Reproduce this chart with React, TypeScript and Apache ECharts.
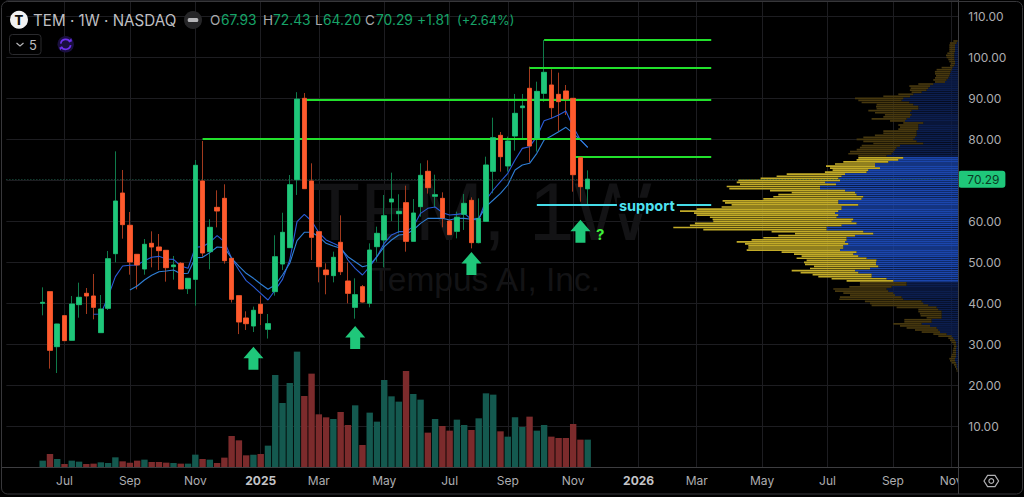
import React, { useEffect, useRef } from "react";
import * as echarts from "echarts";

// ---------- x axis ----------
const CATEGORY_COUNT = 132;
const FIRST_CANDLE_INDEX = 5;
const tickIndexes = [8, 17, 26, 35, 43, 52, 61, 69, 78, 87, 95, 104, 113, 122, 130];
const tickLabels = ["Jul", "Sep", "Nov", "2025", "Mar", "May", "Jul", "Sep", "Nov", "2026", "Mar", "May", "Jul", "Sep", "Nov"];

// ---------- candles: open, close, low, high ----------
const candles: number[][] = [
  [40.0, 40.25, 37.07, 43.9], [42.85, 28.54, 24.07, 42.85], [29.43, 34.96, 23.0, 35.0], [36.99, 30.9, 30.9, 37.0],
  [30.98, 39.84, 30.9, 41.79], [39.68, 41.47, 36.5, 45.04], [42.44, 41.79, 37.4, 43.74], [41.79, 39.03, 36.1, 47.16],
  [32.85, 38.62, 32.85, 42.03], [38.78, 50.89, 38.37, 52.77], [52.11, 64.96, 50.0, 77.07], [66.9, 59.19, 55.77, 72.52],
  [59.03, 50.08, 46.99, 62.28], [51.95, 49.35, 43.42, 51.95], [48.37, 54.39, 46.99, 55.69], [54.64, 53.74, 48.78, 57.56],
  [53.74, 52.85, 48.13, 56.91], [52.93, 48.7, 45.29, 52.93], [48.94, 49.35, 45.77, 51.55], [49.76, 43.5, 43.5, 50.08],
  [43.58, 46.1, 42.28, 46.1], [45.85, 73.66, 39.43, 74.96], [69.84, 52.28, 51.37, 79.6], [52.6, 58.54, 48.3, 60.5],
  [63.41, 62.52, 58.54, 67.56], [65.61, 50.41, 49.68, 69.03], [50.98, 40.98, 40.2, 50.98], [41.87, 35.45, 32.5, 41.87],
  [36.42, 35.04, 33.5, 38.05], [34.47, 38.3, 33.0, 39.2], [39.76, 37.56, 34.7, 41.87], [33.66, 35.04, 31.4, 37.4],
  [42.85, 51.37, 41.87, 56.6], [49.59, 57.32, 48.13, 62.1], [53.58, 68.94, 53.58, 71.3], [70.16, 89.8, 66.43, 91.5],
  [90.0, 67.97, 67.9, 91.3], [69.84, 56.1, 50.57, 74.15], [57.48, 48.94, 45.12, 57.48], [48.13, 46.99, 42.2, 49.76],
  [46.75, 51.22, 45.12, 52.6], [54.88, 47.72, 46.9, 61.46], [45.45, 42.44, 40.0, 50.0], [39.02, 42.11, 36.26, 46.1],
  [44.06, 40.32, 40.16, 44.47], [40.0, 53.0, 39.02, 54.63], [53.82, 57.07, 50.16, 58.7], [55.45, 61.38, 48.78, 66.42],
  [64.72, 65.45, 60.08, 71.87], [61.87, 62.44, 57.07, 66.59], [64.55, 55.12, 52.6, 68.7], [55.12, 62.03, 55.12, 65.45],
  [63.58, 71.22, 61.14, 74.15], [72.2, 68.21, 66.75, 74.88], [66.1, 66.5, 63.4, 71.38], [65.6, 60.8, 58.54, 67.07],
  [60.08, 56.75, 56.75, 60.3], [57.56, 60.98, 55.85, 62.35], [61.7, 64.39, 57.9, 66.67], [65.12, 54.8, 53.4, 65.85],
  [54.8, 60.73, 54.63, 65.6], [60.0, 73.74, 59.92, 75.77], [72.2, 80.4, 66.83, 85.28], [80.97, 75.77, 72.11, 81.79],
  [73.5, 79.59, 72.11, 80.65], [80.81, 86.34, 77.24, 91.06], [87.72, 88.13, 80.24, 91.06], [92.44, 78.37, 74.39, 97.72],
  [80.24, 91.7, 77.0, 94.06], [91.22, 96.34, 89.19, 104.2], [93.25, 87.72, 85.12, 97.07], [90.97, 89.19, 82.03, 96.26],
  [91.79, 89.76, 85.93, 93.25], [90.0, 71.38, 67.23, 90.0], [75.61, 68.45, 64.8, 75.61], [67.93, 70.29, 64.2, 72.43],
];

// ---------- volume, millions ----------
const volumes = [
  1.67, 3.33, 2.08, 0.83, 1.67, 1.42, 0.83, 0.92, 1.25, 1.08, 2.5, 1.5, 1.17, 1.67, 1.92, 1.33, 1.33, 1.17, 1.08, 0.92,
  0.92, 3.17, 2.08, 1.92, 1.08, 2.42, 7.83, 6.75, 3.0, 3.17, 3.33, 5.42, 23.08, 16.08, 21.08, 28.92, 17.83, 23.42, 13.25, 12.5,
  12.08, 13.83, 10.58, 15.5, 5.58, 13.67, 11.42, 21.83, 17.75, 16.42, 24.08, 18.33, 16.92, 8.67, 12.08, 10.33, 9.17, 11.92, 10.58, 9.33,
  12.25, 18.5, 18.17, 9.0, 7.67, 12.5, 10.08, 12.67, 9.17, 10.58, 7.67, 7.33, 7.33, 10.83, 6.92, 6.92,
];

// ---------- moving averages, by candle position ----------
const fastAvgStart = 7;
const fastAvg = [
  37.32, 37.4, 41.63, 46.5, 49.1, 49.27, 49.35, 50.41, 51.22, 51.46, 50.81, 50.73, 49.1, 48.54, 53.66, 53.82, 54.88, 56.5, 55.04,
  50.98, 48.13, 45.53, 44.06, 42.44, 40.81, 43.25, 45.85, 50.57, 59.92, 61.7, 60.08, 57.24, 55.45, 54.63, 53.82, 50.57, 48.54, 46.91,
  48.94, 51.38, 54.63, 56.67, 57.48, 57.48, 58.7, 61.95, 63.17, 63.5, 62.11, 61.54, 61.7, 61.95, 60.49, 60.32, 65.2, 67.64, 69.67,
  71.7, 74.96, 77.8, 78.21, 80.65, 84.55, 85.12, 85.93, 86.91, 83.09, 79.84, 78.05,
];
const slowAvgStart = 12;
const slowAvg = [
  43.25, 44.23, 45.69, 46.83, 47.72, 47.89, 48.13, 47.24, 47.32, 51.14, 51.22, 52.36, 53.74, 53.58, 50.98, 49.1, 47.32, 46.1, 44.72,
  43.42, 44.47, 46.91, 49.76, 55.28, 57.32, 57.32, 56.26, 54.63, 53.98, 53.41, 51.38, 50.16, 48.94, 49.35, 51.38, 53.82, 55.45, 56.67,
  56.83, 57.89, 59.51, 60.73, 60.73, 60.73, 60.32, 60.73, 60.73, 60.49, 60.73, 63.58, 65.2, 66.83, 68.86, 72.52, 73.74, 74.15, 76.59,
  79.84, 80.81, 81.87, 82.93, 81.46, 79.84, 78.05,
];

// ---------- horizontal levels ----------
const levelStarts = [74, 72, 41, 27, 78];
const levelPrices = [104.2, 97.5, 89.6, 80.15, 75.8];
const levelEnd = 97;
const supportPrice = 64.05;
const supportStart = 73;
const supportLabelAt = 88;
const lastPrice = 70.29;

// ---------- arrows ----------
const arrowIndexes = [34, 48, 64, 79];
const arrowPrices = [26.6, 31.65, 49.7, 57.6];

// ---------- volume profile, rows from 104 down to 23.5 in 0.5 steps ----------
const profileTopPrice = 104;
const valueAreaHigh = 75.5;
const valueAreaLow = 45.5;
const profileBlue = [
  0.7, 1.7, 3.3, 3.3, 3.3, 3.3, 4, 4, 4, 4, 3.3, 3.3, 4, 5.7, 6.7, 7.7, 8.3, 9, 10, 11.7, 13.3, 25, 28.3, 30, 31.7, 36.7, 45, 48.3, 55, 56.7,
  49, 45, 40, 40, 46.7, 48.3, 46.7, 48.3, 51.7, 53.3, 35, 40, 40, 40, 41.7, 41.7, 41.7, 43.3, 45, 41.7, 35, 58.3, 61.7, 63.3, 65, 66.7, 71.7,
  55, 60, 70, 83.3, 83.3, 78.3, 90, 91.7, 113.3, 116.7, 120, 118.3, 133.3, 122.3, 138.3, 138.3, 113.3, 103.3, 101.7, 95, 96.7,
  120, 120, 100, 116.7, 116.7, 120, 123.3, 120, 121.7, 105, 106.7, 101.7, 116.7, 131.7, 131.7, 95, 85, 103.3, 111.7, 111.7, 113.3, 110,
  115, 115, 118.3, 101.7, 105, 100, 91.7, 81.7, 82.3, 82.3, 80, 88.3, 103.3, 100, 86.7, 86.7, 71.7, 65,
  51.7, 51.7, 66.7, 71.7, 70, 65, 63.3, 56.7, 55, 36.7, 35, 30, 21.7, 20, 16.7, 16.7, 16.7, 16.7, 26.7, 26.7, 36.7, 28.3, 21.7, 20, 18.3,
  11.7, 6.7, 5, 3.3, 2.3, 2.3, 1.7, 2.3, 2.3, 2.3, 2.3, 2.3, 3.3, 3.3, 2.3, 1.7, 1.7, 1, 0.7,
];
const profileYellow = [
  4.3, 6.7, 5.7, 5.7, 5.7, 5.7, 7, 8.3, 7.7, 6, 5.7, 4.3, 4.3, 11, 15, 15.7, 15, 13.3, 13.3, 13.3, 10, 15, 20.7, 17.7, 16.7, 10, 15, 26.7, 48.3, 43.3,
  47.7, 36.7, 42.3, 41.7, 43.3, 35, 26.7, 26.7, 35, 15, 20, 20, 18.3, 20, 33.3, 33.3, 41.7, 51.7, 56.7, 53.3, 50, 38.3, 36.7, 38.3, 43.3, 43.3, 28.3,
  45, 41.7, 45, 40, 49, 50, 35.7, 41.7, 58.3, 65, 77.7, 101.7, 88.3, 96, 93.3, 90.7, 75, 63.3, 78.3, 90, 98.3,
  115.7, 113.3, 126.7, 120, 145, 158.3, 141, 141.7, 126.7, 140.7, 138.3, 161.7, 151.7, 153.3, 123.3, 91.7, 78.3, 76.7, 83.3, 95, 108.3, 103.3,
  95, 95, 93.3, 75, 59.3, 56.7, 70, 70, 72, 71, 64.3, 60, 63.3, 57.7, 59, 53.3, 55, 46.7,
  46.7, 46.7, 42.3, 53.3, 53.3, 50, 45, 61.7, 64, 56.7, 53.3, 56.7, 40, 20, 23.3, 21.7, 21, 15, 27.3, 27.3, 28.3, 30, 30, 23.3, 18.3,
  13.3, 13.3, 5, 5, 4.3, 2.7, 2.7, 2.7, 3.3, 3.3, 4.3, 5, 5.7, 5, 4.3, 2.7, 1.7, 1.3, 1,
];

// ---------- header ----------
const headerTitle = "TEM · 1W · NASDAQ";
const ohlcLabels = ["O", "H", "L", "C"];
const ohlcValues = ["67.93", "72.43", "64.20", "70.29"];
const changeText = "+1.81";
const changePctText = "(+2.64%)";

const GREEN = "#1fc77a";
const RED = "#ff5a2d";
const FONT = "Inter";
const GRID_LINE = "#1d1d21";
const AXIS_LINE = "#3d3d40";
const AXIS_TEXT = "#adadb0";

const PLOT_LEFT = 6.37;
const PLOT_RIGHT = 958.3;
const PLOT_BOTTOM = 467.33;
const PRICE_MAX = 113.983;
const VOLUME_MAX = 116.83;

function App() {
  const ref = useRef<HTMLDivElement>(null);
  useEffect(() => {
    if (!ref.current) return;
    const chart = echarts.init(ref.current, undefined, { renderer: "svg" });

    const categories = Array.from({ length: CATEGORY_COUNT }, (_, i) => String(i));
    const isTick = (i: number) => tickIndexes.indexOf(i) >= 0;

    const wicks = candles.map((c, i) => [i + FIRST_CANDLE_INDEX, c[0], c[1], c[2], c[3]]);
    const bodies = candles.map((c, i) => [i + FIRST_CANDLE_INDEX, c[0], c[1], Math.min(c[0], c[1]), Math.max(c[0], c[1])]);
    const volumeData = volumes.map((v, i) => {
      const up = candles[i][1] >= candles[i][0];
      return { value: [i + FIRST_CANDLE_INDEX, v], itemStyle: { color: up ? "#14594f" : "#7c2b2c" } };
    });
    const lineData = (vals: number[], start: number) => vals.map((v, i) => [i + start + FIRST_CANDLE_INDEX, v]);

    // profile rows on a 0.5-step price category axis
    const profileCategories = Array.from({ length: 229 }, (_, i) => (i * 0.5).toFixed(1));
    const rowOf = (k: number) => Math.round((profileTopPrice - k * 0.5) * 2);
    const inValue = (k: number) => {
      const p = profileTopPrice - k * 0.5;
      return p <= valueAreaHigh && p >= valueAreaLow;
    };
    const profileData = (vals: number[], bright: string, dim: string) => {
      const out: any[] = profileCategories.map(() => "-");
      vals.forEach((v, k) => {
        out[rowOf(k)] = { value: v, itemStyle: { color: inValue(k) ? bright : dim } };
      });
      return out;
    };

    const levelLines = levelPrices.map((p, i) => [
      { coord: [levelStarts[i], p] },
      { coord: [levelEnd, p] },
    ]);

    const headerSmall = { fontFamily: FONT, fontSize: 13.5, fill: "#a9a9ac" };
    const headerGreen = { fontFamily: FONT, fontSize: 13.8, fill: "#17a368" };
    const ohlcLabelX = [210, 263, 315, 365];
    const ohlcValueX = [221, 273, 323, 376];

    const option: any = {
      animation: false,
      backgroundColor: "#000",
      grid: [
        { left: PLOT_LEFT, top: 0, width: PLOT_RIGHT - PLOT_LEFT, height: PLOT_BOTTOM },
        { left: 0, top: 0, width: PLOT_RIGHT, height: PLOT_BOTTOM },
      ],
      xAxis: [
        {
          type: "category",
          gridIndex: 0,
          data: categories,
          boundaryGap: false,
          axisLine: { show: false },
          axisTick: { show: false },
          axisLabel: {
            interval: (i: number) => isTick(i),
            margin: 7,
            fontFamily: FONT,
            fontSize: 12,
            color: AXIS_TEXT,
            formatter: (v: string) => {
              const t = tickLabels[tickIndexes.indexOf(Number(v))] ?? "";
              return /^\d/.test(t) ? `{b|${t}}` : t;
            },
            rich: { b: { fontFamily: FONT, fontSize: 12, fontWeight: 700, color: "#c4c4c7" } },
          },
          splitLine: { show: true, interval: (i: number) => isTick(i), lineStyle: { color: GRID_LINE, width: 1 } },
        },
        {
          type: "value",
          gridIndex: 1,
          inverse: true,
          min: 0,
          max: PLOT_RIGHT,
          show: false,
        },
      ],
      yAxis: [
        {
          type: "value",
          gridIndex: 0,
          position: "right",
          min: 0,
          max: PRICE_MAX,
          interval: 10,
          axisLine: { show: false },
          axisTick: { show: false },
          axisLabel: {
            align: "left",
            margin: 10,
            fontFamily: FONT,
            fontSize: 12,
            color: AXIS_TEXT,
            formatter: (v: number) => (v >= 10 && v <= 110 ? v.toFixed(2) : ""),
          },
          splitLine: { lineStyle: { color: GRID_LINE, width: 1 } },
        },
        {
          type: "value",
          gridIndex: 0,
          position: "left",
          min: 0,
          max: VOLUME_MAX,
          show: false,
        },
        {
          type: "category",
          gridIndex: 1,
          data: profileCategories,
          boundaryGap: false,
          show: false,
        },
      ],
      series: [
        {
          type: "bar",
          name: "profile sell",
          xAxisIndex: 1,
          yAxisIndex: 2,
          stack: "profile",
          barWidth: 1.7,
          z: 1,
          silent: true,
          data: profileData(profileBlue, "#1b46ad", "#0c1e4e"),
        },
        {
          type: "bar",
          name: "profile buy",
          xAxisIndex: 1,
          yAxisIndex: 2,
          stack: "profile",
          barWidth: 1.7,
          z: 1,
          silent: true,
          data: profileData(profileYellow, "#c2ab28", "#47380f"),
        },
        {
          type: "bar",
          name: "volume",
          xAxisIndex: 0,
          yAxisIndex: 1,
          barWidth: 6.4,
          z: 2,
          data: volumeData,
        },
        {
          type: "candlestick",
          name: "wicks",
          xAxisIndex: 0,
          yAxisIndex: 0,
          barWidth: 5,
          z: 3,
          encode: { x: 0, y: [1, 2, 3, 4] },
          itemStyle: { color: "#0f7a4a", color0: "#a33a1e", borderColor: "#0f7a4a", borderColor0: "#a33a1e", borderWidth: 1 },
          data: wicks,
        },
        {
          type: "line",
          name: "fast average",
          xAxisIndex: 0,
          yAxisIndex: 0,
          z: 4,
          showSymbol: false,
          lineStyle: { color: "#2a5bd6", width: 1.1 },
          data: lineData(fastAvg, fastAvgStart),
        },
        {
          type: "line",
          name: "slow average",
          xAxisIndex: 0,
          yAxisIndex: 0,
          z: 4,
          showSymbol: false,
          lineStyle: { color: "#2f7fd6", width: 1.1 },
          data: lineData(slowAvg, slowAvgStart),
        },
        {
          type: "candlestick",
          name: "bodies",
          xAxisIndex: 0,
          yAxisIndex: 0,
          barWidth: 5,
          z: 5,
          encode: { x: 0, y: [1, 2, 3, 4] },
          itemStyle: { color: GREEN, color0: RED, borderColor: GREEN, borderColor0: RED, borderWidth: 0.5 },
          data: bodies,
          markLine: {
            silent: true,
            symbol: "none",
            animation: false,
            lineStyle: { color: "#1f5a49", type: [1, 2], width: 1 },
            label: {
              show: true,
              position: "end",
              distance: 0,
              formatter: lastPrice.toFixed(2),
              backgroundColor: GREEN,
              color: "#0a3a24",
              fontFamily: FONT,
              fontSize: 12,
              borderRadius: 3,
              padding: [2.5, 6, 2.5, 9],
            },
            data: [{ yAxis: lastPrice }],
          },
        },
        {
          type: "line",
          name: "levels",
          xAxisIndex: 0,
          yAxisIndex: 0,
          z: 6,
          showSymbol: false,
          data: [],
          markLine: {
            silent: true,
            symbol: "none",
            animation: false,
            lineStyle: { color: "#22e02c", type: "solid", width: 1.8, opacity: 1 },
            label: { show: false },
            data: [
              ...levelLines,
              [
                { coord: [supportStart, supportPrice], lineStyle: { color: "#45dce8", width: 1.8, type: "solid", opacity: 1 } },
                { coord: [levelEnd, supportPrice] },
              ],
            ],
          },
        },
        {
          type: "scatter",
          name: "arrows",
          xAxisIndex: 0,
          yAxisIndex: 0,
          z: 7,
          symbol: "path://M10 0L20 11.5H15V23H5V11.5H0Z",
          symbolSize: [20, 23],
          itemStyle: { color: GREEN, opacity: 1 },
          data: arrowIndexes.map((x, i) => [x, arrowPrices[i]]),
        },
        {
          type: "scatter",
          name: "annotations",
          xAxisIndex: 0,
          yAxisIndex: 0,
          z: 8,
          symbolSize: 1,
          itemStyle: { color: "rgba(0,0,0,0)", opacity: 1 },
          data: [
            {
              value: [supportLabelAt, supportPrice],
              label: {
                show: true,
                position: "inside",
                formatter: "support",
                fontFamily: FONT,
                fontWeight: 700,
                fontSize: 14.5,
                color: "#4fe3f2",
                opacity: 1,
                backgroundColor: "#000",
                padding: [0, 2, 1, 2],
                offset: [1, 1],
              },
            },
            {
              value: [82, 56.9],
              label: {
                show: true,
                position: "inside",
                formatter: "?",
                fontFamily: FONT,
                fontWeight: 700,
                fontSize: 15,
                color: "#3ef03a",
                opacity: 1,
                offset: [-2, 0],
              },
            },
          ],
        },
      ],
      graphic: [
        // watermark
        { type: "text", z: 1, x: 310, y: 211, style: { text: "TEM, 1W", font: "82px 'Liberation Sans'", fill: "#131315", textVerticalAlign: "middle" } },
        { type: "text", z: 1, x: 371, y: 279, style: { text: "Tempus AI, Inc.", font: "33.5px 'Liberation Sans'", fill: "#131315", textVerticalAlign: "middle" } },
        // axes and frame
        { type: "line", z: 20, shape: { x1: 958.5, y1: 0, x2: 958.5, y2: 494 }, style: { stroke: AXIS_LINE, lineWidth: 1 } },
        { type: "line", z: 20, shape: { x1: 2, y1: 467.5, x2: 1023, y2: 467.5 }, style: { stroke: AXIS_LINE, lineWidth: 1 } },
        { type: "rect", z: 19, shape: { x: 959, y: 470, width: 8, height: 22 }, style: { fill: "#000" } },
        { type: "rect", z: 21, shape: { x: 1.5, y: 1.5, width: 1021, height: 492.5, r: 6 }, style: { fill: "none", stroke: "#37373a", lineWidth: 1 } },
        // settings icon
        {
          type: "polygon", z: 21,
          shape: { points: [[984, 481], [987.6, 475.4], [995, 475.4], [998.6, 481], [995, 486.6], [987.6, 486.6]] },
          style: { fill: "none", stroke: "#b0b0b3", lineWidth: 1.2 },
        },
        { type: "circle", z: 21, shape: { cx: 991.3, cy: 481, r: 2.4 }, style: { fill: "none", stroke: "#b0b0b3", lineWidth: 1.2 } },
        // header
        { type: "circle", z: 21, shape: { cx: 19, cy: 19.7, r: 9 }, style: { fill: "#f2f2f2" } },
        { type: "text", z: 22, x: 19, y: 20, style: { text: "T", fontFamily: FONT, fontWeight: 800, fontSize: 13, fill: "#111", textAlign: "center", textVerticalAlign: "middle" } },
        { type: "text", z: 21, x: 33, y: 20, style: { text: headerTitle, fontFamily: FONT, fontSize: 15.2, fill: "#bfbfc2", textVerticalAlign: "middle" } },
        { type: "circle", z: 21, shape: { cx: 193, cy: 20, r: 9 }, style: { fill: "#262628" } },
        { type: "rect", z: 22, shape: { x: 187.7, y: 18, width: 10.6, height: 4, r: 1.5 }, style: { fill: "#b5b5b8" } },
        ...ohlcLabels.map((t, i) => ({ type: "text", z: 21, x: ohlcLabelX[i], y: 20, style: { ...headerSmall, text: t, textVerticalAlign: "middle" } })),
        ...ohlcValues.map((t, i) => ({ type: "text", z: 21, x: ohlcValueX[i], y: 20, style: { ...headerGreen, text: t, textVerticalAlign: "middle" } })),
        { type: "text", z: 21, x: 417, y: 20, style: { ...headerGreen, text: changeText, textVerticalAlign: "middle" } },
        { type: "text", z: 21, x: 457, y: 20, style: { ...headerGreen, fontSize: 12.8, text: changePctText, textVerticalAlign: "middle" } },
        // indicators toggle
        { type: "rect", z: 21, shape: { x: 9.5, y: 34.5, width: 31.5, height: 20, r: 3 }, style: { fill: "none", stroke: "#2a2a2d", lineWidth: 1 } },
        { type: "polyline", z: 21, shape: { points: [[16.5, 43], [20, 46], [23.5, 43]] }, style: { fill: "none", stroke: "#b5b5b8", lineWidth: 1.2 } },
        { type: "text", z: 21, x: 29, y: 44.8, style: { text: "5", fontFamily: FONT, fontSize: 13, fill: "#bcbcbf", textVerticalAlign: "middle" } },
        { type: "circle", z: 21, shape: { cx: 65.7, cy: 44.3, r: 8.2 }, style: { fill: "#1a0f3f" } },
        { type: "arc", z: 22, shape: { cx: 65.7, cy: 44.3, r: 5, startAngle: Math.PI * 1.05, endAngle: Math.PI * 1.85 }, style: { fill: "none", stroke: "#6d30ee", lineWidth: 1.7 } },
        { type: "arc", z: 22, shape: { cx: 65.7, cy: 44.3, r: 5, startAngle: Math.PI * 0.05, endAngle: Math.PI * 0.85 }, style: { fill: "none", stroke: "#6d30ee", lineWidth: 1.7 } },
        { type: "polygon", z: 22, shape: { points: [[68.5, 41.5], [72, 41.5], [71.3, 38.3]] }, style: { fill: "#6d30ee" } },
        { type: "polygon", z: 22, shape: { points: [[59.4, 47.2], [62.9, 47.2], [60.1, 50.3]] }, style: { fill: "#6d30ee" } },
      ],
    };

    chart.setOption(option);
    return () => chart.dispose();
  }, []);

  return (
    <div
      ref={ref}
      style={{ position: "fixed", left: 0, top: 0, width: 1024, height: 497, background: "#000" }}
    />
  );
}

export default App;
